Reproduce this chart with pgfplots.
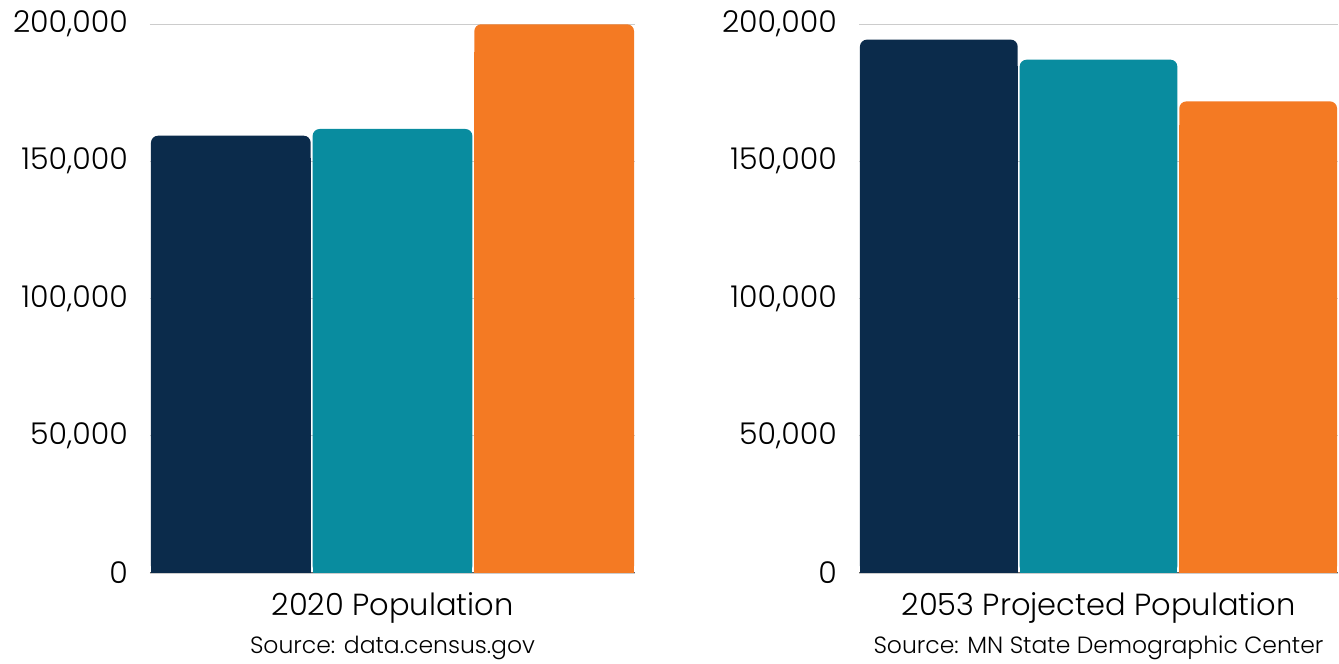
\documentclass[border=0pt]{standalone}
\usepackage{pgfplots}
\usepackage{pgfplotstable}
\pgfplotsset{compat=1.18}
\usepackage{fontspec}
\setmainfont{Poppins}[UprightFont=* Light]
\definecolor{navy}{HTML}{0B2B4B}
\definecolor{teal}{HTML}{098C9F}
\definecolor{orng}{HTML}{F47A23}
\definecolor{gridc}{HTML}{CCCCCC}
\definecolor{basec}{HTML}{5F5F5F}

\pgfplotstableread{
x v
0 159300
1 161750
2 199900
}\leftdata
\pgfplotstableread{
x v
0 194300
1 187000
2 171800
}\rightdata

\pgfplotsset{
  panel/.style={
    scale only axis,
    anchor=south west,
    height=549pt,
    ymin=0, ymax=200000,
    xmin=-0.5, xmax=2.5,
    ytick={0,50000,100000,150000,200000},
    yticklabels={0,{50,000},{100,000},{150,000},{200,000}},
    xtick=\empty,
    scaled y ticks=false,
    yticklabel style={anchor=east, inner sep=0pt, xshift=-22pt, font=\fontsize{30}{34}\selectfont},
    major tick length=0pt,
    ymajorgrids,
    grid style={gridc, line width=0.8pt},
    separate axis lines,
    axis x line*=bottom,
    axis y line*=left,
    y axis line style={draw=none},
    x axis line style={basec, line width=1pt, -},
    ybar, bar shift=0pt, bar width=0.988,
    xlabel style={align=center, font=\fontsize{30.5}{34}\selectfont, yshift=-16pt},
  },
  rbar/.style={fill=#1, draw=none, rounded corners=7pt},
  sbar/.style={fill=#1, draw=none},
}

\begin{document}
\begin{tikzpicture}[x=1pt,y=1pt]
\path (0,0) rectangle (1339,660);
\begin{axis}[panel, at={(150pt,87pt)}, width=485pt,
  xlabel={2020 Population\\[4pt]{\fontsize{23.5}{27}\selectfont Source: data.census.gov}}]
  \addplot[rbar=navy, restrict x to domain=-0.1:0.1] table[x=x,y=v] {\leftdata};
  \addplot[sbar=navy, restrict x to domain=-0.1:0.1] table[x=x,y expr=0.95*\thisrow{v}] {\leftdata};
  \addplot[rbar=teal, restrict x to domain=0.9:1.1] table[x=x,y=v] {\leftdata};
  \addplot[sbar=teal, restrict x to domain=0.9:1.1] table[x=x,y expr=0.95*\thisrow{v}] {\leftdata};
  \addplot[rbar=orng, restrict x to domain=1.9:2.1] table[x=x,y=v] {\leftdata};
  \addplot[sbar=orng, restrict x to domain=1.9:2.1] table[x=x,y expr=0.95*\thisrow{v}] {\leftdata};
\end{axis}
\begin{axis}[panel, at={(859pt,87pt)}, width=479pt,
  xlabel={2053 Projected Population\\[4pt]{\fontsize{23.5}{27}\selectfont Source: MN State Demographic Center}}]
  \addplot[rbar=navy, restrict x to domain=-0.1:0.1] table[x=x,y=v] {\rightdata};
  \addplot[sbar=navy, restrict x to domain=-0.1:0.1] table[x=x,y expr=0.95*\thisrow{v}] {\rightdata};
  \addplot[rbar=teal, restrict x to domain=0.9:1.1] table[x=x,y=v] {\rightdata};
  \addplot[sbar=teal, restrict x to domain=0.9:1.1] table[x=x,y expr=0.95*\thisrow{v}] {\rightdata};
  \addplot[rbar=orng, restrict x to domain=1.9:2.1] table[x=x,y=v] {\rightdata};
  \addplot[sbar=orng, restrict x to domain=1.9:2.1] table[x=x,y expr=0.95*\thisrow{v}] {\rightdata};
\end{axis}
\end{tikzpicture}
\end{document}
